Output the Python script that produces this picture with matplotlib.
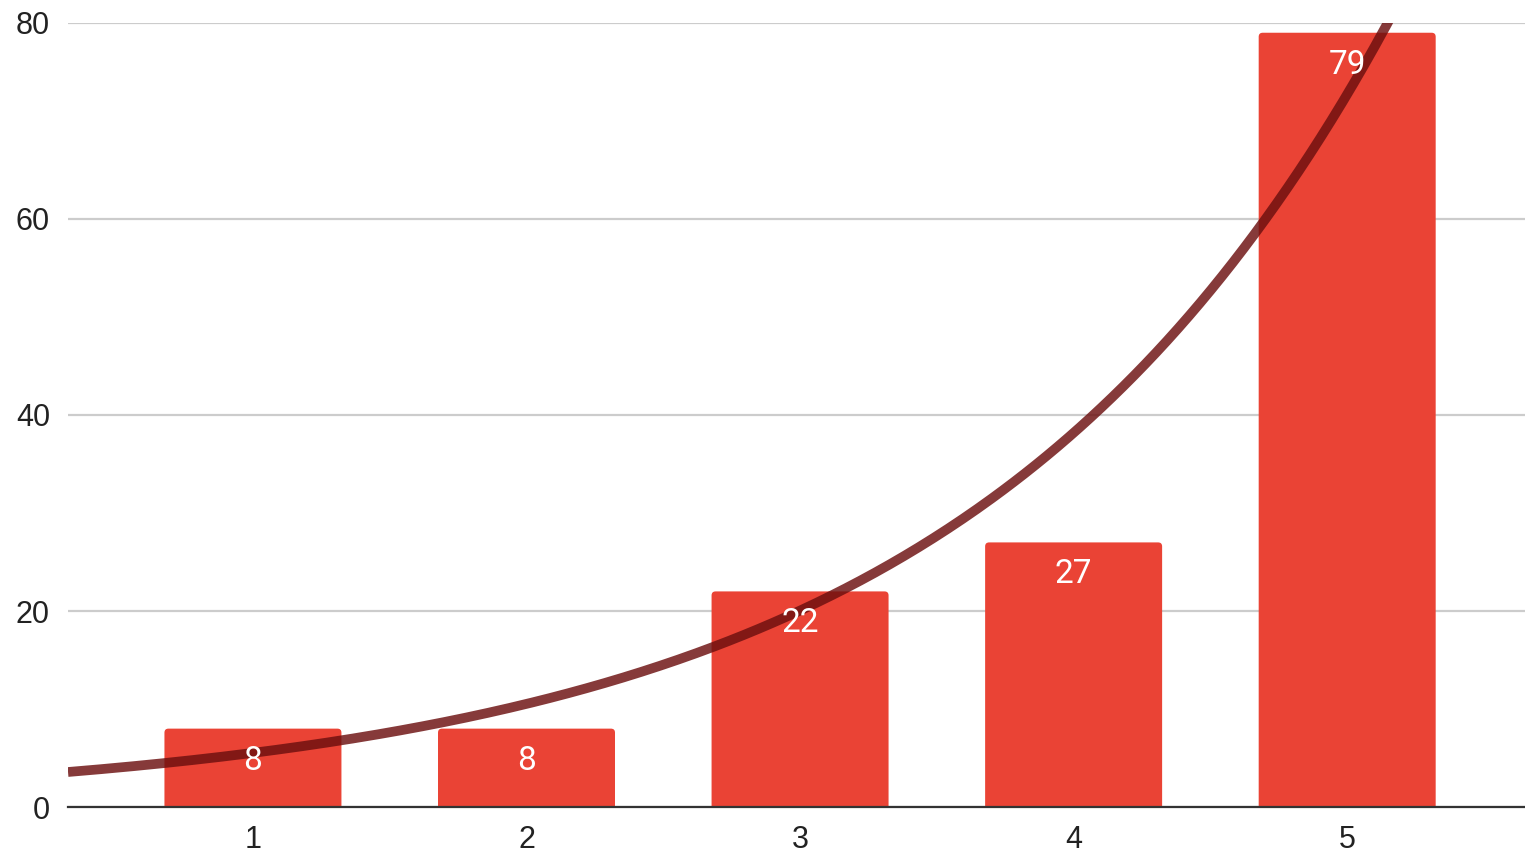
import numpy as np
import matplotlib
matplotlib.use('Agg')
import matplotlib.pyplot as plt
from matplotlib.patches import FancyBboxPatch

# data
categories = [1, 2, 3, 4, 5]
values = [8, 8, 22, 27, 79]
y_ticks = [0, 20, 40, 60, 80]

bar_color = '#ea4335'
trend_color = '#6b0f0f'

plt.rcParams['font.family'] = ['Liberation Sans', 'DejaVu Sans']

fig = plt.figure(figsize=(15.25, 8.56), dpi=100)
ax = fig.add_axes([0.0446, 0.0572, 0.9554, 0.916])

x0, x1 = 0.324, 5.65
y0, y1 = 0, 80
ax.set_xlim(x0, x1)
ax.set_ylim(y0, y1)

# bars with slightly rounded tops (bottom corners fall below the axis and get clipped)
bar_w = 0.647
px_x = (x1 - x0) / (0.9554 * 1525)
px_y = (y1 - y0) / (0.916 * 856)
r = 4 * px_x
for c, v in zip(categories, values):
    p = FancyBboxPatch((c - bar_w / 2, -2), bar_w, v + 2,
                       boxstyle='round,pad=0,rounding_size=%f' % r,
                       mutation_aspect=px_y / px_x,
                       facecolor=bar_color, edgecolor='none', zorder=2)
    ax.add_patch(p)

# exponential trendline (log fit weighted by value)
xs = np.array(categories, dtype=float)
ys = np.array(values, dtype=float)
k, b = np.polyfit(xs, np.log(ys), 1, w=np.sqrt(ys))
xt = np.linspace(x0, x1, 400)
ax.plot(xt, np.exp(b + k * xt), color=trend_color, alpha=0.82, lw=7,
        solid_capstyle='butt', zorder=3)

# value labels
for c, v in zip(categories, values):
    ax.annotate(str(v), (c, v), xytext=(0, -29.5), textcoords='offset points',
                ha='center', va='baseline', color='white', fontsize=24,
                family=['Roboto', 'DejaVu Sans'], zorder=4)

# grid & axes
ax.set_yticks(y_ticks)
ax.set_xticks(categories)
ax.yaxis.grid(True, color='#cccccc', lw=1.6, zorder=0)
ax.set_axisbelow(True)
for s in ['top', 'right', 'left']:
    ax.spines[s].set_visible(False)
ax.spines['bottom'].set_color('#333333')
ax.spines['bottom'].set_linewidth(1.6)
ax.spines['bottom'].set_zorder(5)
ax.tick_params(axis='both', length=0, labelsize=22, colors='#222222')
ax.tick_params(axis='y', pad=13)
ax.tick_params(axis='x', pad=13)

fig.savefig('out.png', dpi=100)
